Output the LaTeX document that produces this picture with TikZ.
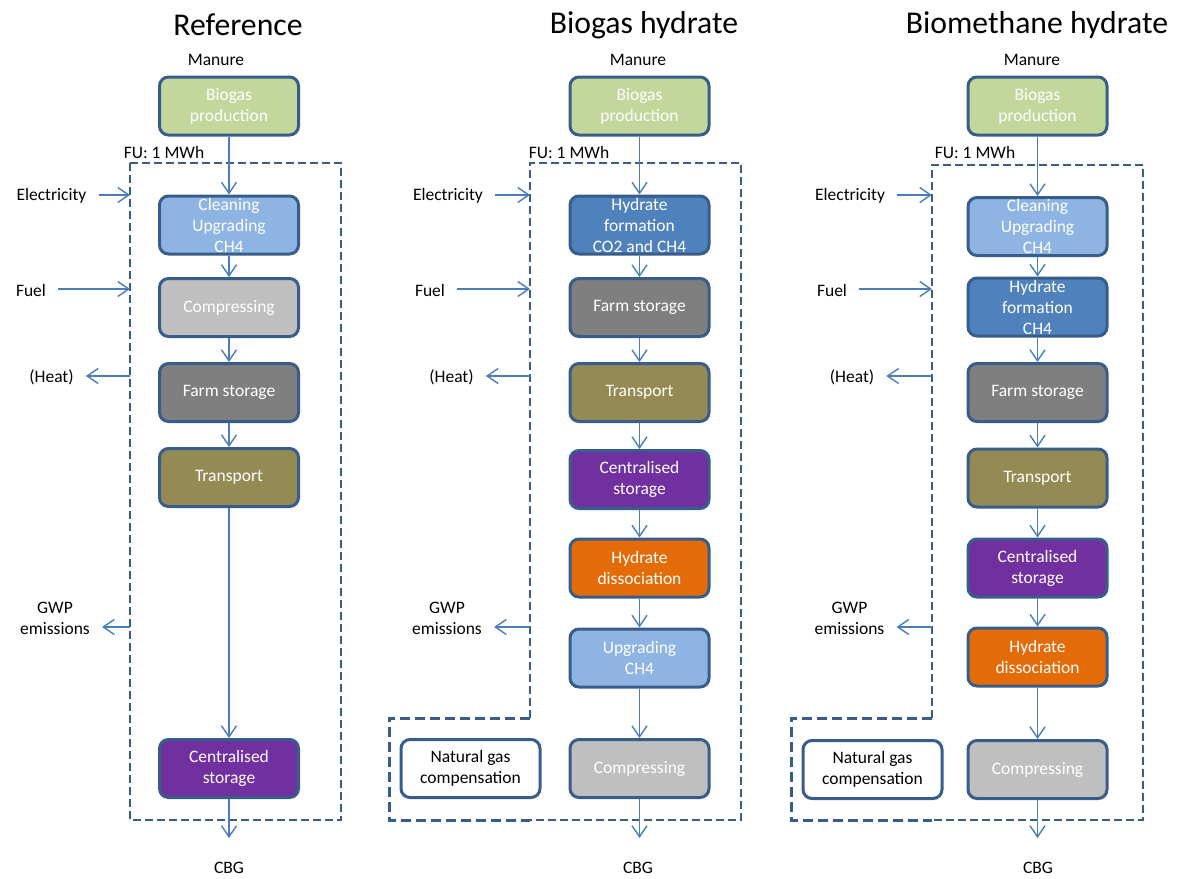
\documentclass[tikz,border=0pt]{standalone}
\usepackage{fontspec}
\setmainfont{Carlito}
\usetikzlibrary{arrows.meta}
\definecolor{boxline}{HTML}{385D8A}
\definecolor{arrowblue}{HTML}{4A7EBB}
\definecolor{biogas}{HTML}{C3D69B}
\definecolor{cleaning}{HTML}{8EB4E3}
\definecolor{compress}{HTML}{BFBFBF}
\definecolor{farm}{HTML}{7F7F7F}
\definecolor{transport}{HTML}{948A54}
\definecolor{central}{HTML}{7030A0}
\definecolor{formation}{HTML}{4F81BD}
\definecolor{dissoc}{HTML}{E36C09}
\begin{document}
\begin{tikzpicture}[
        x=1pt, y=-1pt,
        every node/.style={
        font=\fontsize{17.5}{21}\selectfont,
        align=center,
        },
        process/.style={
        draw=boxline,
        line width=3pt,
        rounded corners=9pt,
        minimum width=139pt,
        minimum height=58pt,
        inner sep=0pt,
        text=white,
        },
        coltitle/.style={font=\fontsize{31.7}{36}\selectfont},
        sidelabel/.style={inner xsep=12pt},
        flow/.style={draw=arrowblue, line width=1.4pt, -{Straight Barb[length=11pt,width=15pt]}},
        boundary/.style={draw=boxline, line width=2.5pt, dash pattern=on 8pt off 4pt},
        compboundary/.style={draw=boxline, line width=3pt, dash pattern=on 10pt off 5pt},
      ]
        \useasboundingbox (0, 0) rectangle (1180, 878);

        % Reference
        \node[coltitle] (rt) at (238, 25) {Reference};
        \node (rman) at (216, 60) {Manure};
        \node[process, fill=biogas] (r1) at (229, 106) {Biogas\\production};
        \node[process, fill=cleaning] (r2) at (229, 225) {Cleaning\\Upgrading\\CH4};
        \node[process, fill=compress] (r3) at (229, 307.5) {Compressing};
        \node[process, fill=farm] (r4) at (229, 392.5) {Farm storage};
        \node[process, fill=transport] (r5) at (229, 477.5) {Transport};
        \node[process, fill=central] (r6) at (229, 768.5) {Centralised\\storage};
        \node (rfu) at (164, 152) {FU: 1 MWh};
        \node[sidelabel] (relec) at (51.5, 196) {Electricity};
        \node[sidelabel] (rfuel) at (31, 290) {Fuel};
        \node[sidelabel] (rheat) at (51.5, 377) {(Heat)};
        \node[sidelabel] (rgwp) at (55, 618) {GWP\\emissions};
        \node (rcbg) at (229, 868) {CBG};
        \coordinate (rf1) at (130, 195);
        \coordinate (rf2) at (130, 289);
        \coordinate (rf3) at (130, 376);
        \coordinate (rf4) at (130, 627);
        \coordinate (rend) at (229, 838);

        \draw[boundary] (130, 163) rectangle (341, 820);
        \draw[flow] (r1) -- (r2);
        \draw[flow] (r2) -- (r3);
        \draw[flow] (r3) -- (r4);
        \draw[flow] (r4) -- (r5);
        \draw[flow] (r5) -- (r6);
        \draw[flow] (r6) -- (rend);
        \draw[flow] (relec.east |- rf1) -- (rf1);
        \draw[flow] (rfuel.east |- rf2) -- (rf2);
        \draw[flow] (rf3) -- (rf3 -| rheat.east);
        \draw[flow] (rf4) -- (rf4 -| rgwp.east);

        % Biogas hydrate
        \node[coltitle] (bt) at (644, 25) {Biogas hydrate};
        \node (bman) at (638, 60) {Manure};
        \node[process, fill=biogas] (b1) at (639.5, 106) {Biogas\\production};
        \node[process, fill=formation] (b2) at (639.5, 225) {Hydrate\\formation\\CO2 and CH4};
        \node[process, fill=farm] (b3) at (639.5, 307.5) {Farm storage};
        \node[process, fill=transport] (b4) at (639.5, 392.5) {Transport};
        \node[process, fill=central] (b5) at (639.5, 479.5) {Centralised\\storage};
        \node[process, fill=dissoc] (b6) at (639.5, 568) {Hydrate\\dissociation};
        \node[process, fill=cleaning] (b7) at (639.5, 658) {Upgrading\\CH4};
        \node[process, fill=compress] (b8) at (639.5, 768.5) {Compressing};
        \node[process, fill=white, text=black] (bng) at (470.5, 768.5) {Natural gas\\compensation};
        \node (bfu) at (569, 152) {FU: 1 MWh};
        \node[sidelabel] (belec) at (448, 196) {Electricity};
        \node[sidelabel] (bfuel) at (430, 290) {Fuel};
        \node[sidelabel] (bheat) at (451.5, 377) {(Heat)};
        \node[sidelabel] (bgwp) at (447, 618) {GWP\\emissions};
        \node (bcbg) at (638, 868) {CBG};
        \coordinate (bf1) at (530, 195);
        \coordinate (bf2) at (530, 289);
        \coordinate (bf3) at (530, 376);
        \coordinate (bf4) at (530, 627);
        \coordinate (bend) at (639.5, 838);

        \draw[boundary] (530, 718) -- (530, 163) -- (741, 163) -- (741, 820) -- (530, 820);
        \draw[compboundary] (530, 718) -- (389, 718) -- (389, 820) -- (530, 820);
        \draw[flow] (b1) -- (b2);
        \draw[flow] (b2) -- (b3);
        \draw[flow] (b3) -- (b4);
        \draw[flow] (b4) -- (b5);
        \draw[flow] (b5) -- (b6);
        \draw[flow] (b6) -- (b7);
        \draw[flow] (b7) -- (b8);
        \draw[flow] (b8) -- (bend);
        \draw[flow] (belec.east |- bf1) -- (bf1);
        \draw[flow] (bfuel.east |- bf2) -- (bf2);
        \draw[flow] (bf3) -- (bf3 -| bheat.east);
        \draw[flow] (bf4) -- (bf4 -| bgwp.east);

        % Biomethane hydrate
        \node[coltitle] (mt) at (1037, 25) {Biomethane hydrate};
        \node (mman) at (1032, 60) {Manure};
        \node[process, fill=biogas] (m1) at (1037.5, 106) {Biogas\\production};
        \node[process, fill=cleaning] (m2) at (1037.5, 226.5) {Cleaning\\Upgrading\\CH4};
        \node[process, fill=formation] (m3) at (1037.5, 307) {Hydrate\\formation\\CH4};
        \node[process, fill=farm] (m4) at (1037.5, 392.5) {Farm storage};
        \node[process, fill=transport] (m5) at (1037.5, 478) {Transport};
        \node[process, fill=central] (m6) at (1037.5, 568) {Centralised\\storage};
        \node[process, fill=dissoc] (m7) at (1037.5, 657) {Hydrate\\dissociation};
        \node[process, fill=compress] (m8) at (1037.5, 769.5) {Compressing};
        \node[process, fill=white, text=black] (mng) at (872.5, 769.5) {Natural gas\\compensation};
        \node (mfu) at (975, 152) {FU: 1 MWh};
        \node[sidelabel] (melec) at (850, 196) {Electricity};
        \node[sidelabel] (mfuel) at (832, 290) {Fuel};
        \node[sidelabel] (mheat) at (852, 377) {(Heat)};
        \node[sidelabel] (mgwp) at (849.5, 618) {GWP\\emissions};
        \node (mcbg) at (1038, 868) {CBG};
        \coordinate (mf1) at (932, 195);
        \coordinate (mf2) at (932, 289);
        \coordinate (mf3) at (932, 376);
        \coordinate (mf4) at (932, 627);
        \coordinate (mend) at (1037.5, 838);

        \draw[boundary] (932, 718) -- (932, 165) -- (1143, 165) -- (1143, 820) -- (932, 820);
        \draw[compboundary] (932, 718) -- (791, 718) -- (791, 820) -- (932, 820);
        \draw[flow] (m1) -- (m2);
        \draw[flow] (m2) -- (m3);
        \draw[flow] (m3) -- (m4);
        \draw[flow] (m4) -- (m5);
        \draw[flow] (m5) -- (m6);
        \draw[flow] (m6) -- (m7);
        \draw[flow] (m7) -- (m8);
        \draw[flow] (m8) -- (mend);
        \draw[flow] (melec.east |- mf1) -- (mf1);
        \draw[flow] (mfuel.east |- mf2) -- (mf2);
        \draw[flow] (mf3) -- (mf3 -| mheat.east);
        \draw[flow] (mf4) -- (mf4 -| mgwp.east);
      \end{tikzpicture}
\end{document}
